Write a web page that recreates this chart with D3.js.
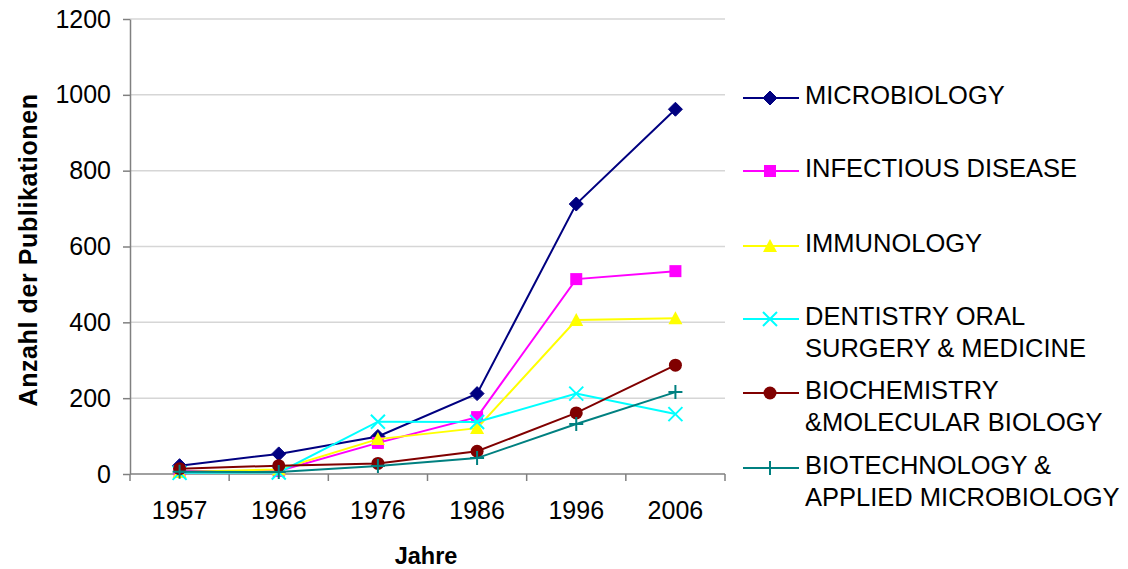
<!DOCTYPE html>
<html>
<head>
<meta charset="utf-8">
<script src="https://cdn.jsdelivr.net/npm/d3@7"></script>
<style>
  html, body { margin: 0; padding: 0; background: #fff; }
  svg { display: block; font-family: "Liberation Sans", Arial, sans-serif; }
</style>
</head>
<body>
<svg id="chart" width="1128" height="569"></svg>
<script>
// Publication counts per subject area, by year
const years = ["1957", "1966", "1976", "1986", "1996", "2006"];
const seriesNames = [
  ["MICROBIOLOGY"],
  ["INFECTIOUS DISEASE"],
  ["IMMUNOLOGY"],
  ["DENTISTRY ORAL", "SURGERY & MEDICINE"],
  ["BIOCHEMISTRY", "&MOLECULAR BIOLOGY"],
  ["BIOTECHNOLOGY &", "APPLIED MICROBIOLOGY"]
];
const microbiology = [22, 53, 99, 212, 712, 962];
const infectiousDisease = [8, 8, 82, 150, 514, 535];
const immunology = [5, 12, 92, 121, 406, 411];
const dentistry = [3, 4, 138, 137, 212, 158];
const biochemistry = [14, 22, 28, 60, 161, 287];
const biotechnology = [6, 5, 21, 42, 132, 216];
const yTicks = [0, 200, 400, 600, 800, 1000, 1200];

const seriesValues = [microbiology, infectiousDisease, immunology, dentistry, biochemistry, biotechnology];
const colors = ["#000080", "#FF00FF", "#FFFF00", "#00FFFF", "#800000", "#008080"];
const markers = ["diamond", "square", "triangle", "cross", "circle", "plus"];

const svg = d3.select("#chart");
const plotLeft = 130, plotRight = 725, plotTop = 19, plotBottom = 474;
const labelSize = 25;

const x = d3.scaleBand().domain(years).range([plotLeft, plotRight]);
const y = d3.scaleLinear().domain([0, 1200]).range([plotBottom, plotTop]);

// Horizontal gridlines
svg.append("g")
  .selectAll("line")
  .data(yTicks.filter(d => d > 0))
  .join("line")
  .attr("x1", plotLeft).attr("x2", plotRight)
  .attr("y1", d => y(d)).attr("y2", d => y(d))
  .attr("stroke", "#d6d6d6").attr("stroke-width", 1.5);

// Y axis
const yAxis = svg.append("g")
  .attr("transform", `translate(${plotLeft},0)`)
  .call(d3.axisLeft(y).tickValues(yTicks).tickFormat(d3.format("d"))
    .tickSize(7).tickPadding(12).tickSizeOuter(0));
yAxis.select(".domain").attr("stroke", "#808080").attr("stroke-width", 1.5);
yAxis.selectAll(".tick line").attr("stroke", "#808080").attr("stroke-width", 1.5);
yAxis.selectAll(".tick text")
  .attr("font-size", labelSize).attr("fill", "#000")
  .attr("font-family", "Liberation Sans, Arial, sans-serif");

// X axis: tick marks on category boundaries, labels at category centres
const xAxisG = svg.append("g").attr("transform", `translate(0,${plotBottom})`);
xAxisG.append("line")
  .attr("x1", plotLeft).attr("x2", plotRight).attr("y1", 0).attr("y2", 0)
  .attr("stroke", "#808080").attr("stroke-width", 1.5);
const boundaries = years.map(d => x(d)).concat([x(years[years.length - 1]) + x.bandwidth()]);
xAxisG.selectAll("line.tk")
  .data(boundaries)
  .join("line")
  .attr("class", "tk")
  .attr("x1", d => d).attr("x2", d => d)
  .attr("y1", 0).attr("y2", 7)
  .attr("stroke", "#808080").attr("stroke-width", 1.5);
xAxisG.selectAll("text")
  .data(years)
  .join("text")
  .attr("x", d => x(d) + x.bandwidth() / 2)
  .attr("y", 45)
  .attr("text-anchor", "middle")
  .attr("font-size", labelSize)
  .text(d => d);

// Axis titles
svg.append("text")
  .attr("x", 426).attr("y", 564)
  .attr("text-anchor", "middle")
  .attr("font-size", 23.5).attr("font-weight", "bold")
  .text("Jahre");
svg.append("text")
  .attr("transform", `translate(37,250) rotate(-90)`)
  .attr("text-anchor", "middle")
  .attr("font-size", 25).attr("font-weight", "bold")
  .attr("letter-spacing", 0.6)
  .text("Anzahl der Publikationen");

// Marker drawing
function drawMarker(g, type, color, cx, cy) {
  switch (type) {
    case "diamond":
      g.append("path")
        .attr("d", `M${cx},${cy - 7}L${cx + 7},${cy}L${cx},${cy + 7}L${cx - 7},${cy}Z`)
        .attr("fill", color).attr("stroke", color);
      break;
    case "square":
      g.append("rect")
        .attr("x", cx - 6).attr("y", cy - 6).attr("width", 12).attr("height", 12)
        .attr("fill", color);
      break;
    case "triangle":
      g.append("path")
        .attr("d", `M${cx},${cy - 7}L${cx + 7},${cy + 6}L${cx - 7},${cy + 6}Z`)
        .attr("fill", color);
      break;
    case "cross":
      g.append("path")
        .attr("d", `M${cx - 7},${cy - 7}L${cx + 7},${cy + 7}M${cx - 7},${cy + 7}L${cx + 7},${cy - 7}`)
        .attr("stroke", color).attr("stroke-width", 2).attr("fill", "none");
      break;
    case "circle":
      g.append("circle")
        .attr("cx", cx).attr("cy", cy).attr("r", 6.5)
        .attr("fill", color);
      break;
    case "plus":
      g.append("path")
        .attr("d", `M${cx - 7},${cy}L${cx + 7},${cy}M${cx},${cy - 7}L${cx},${cy + 7}`)
        .attr("stroke", color).attr("stroke-width", 2).attr("fill", "none");
      break;
  }
}

const line = d3.line()
  .x((d, i) => x(years[i]) + x.bandwidth() / 2)
  .y(d => y(d));

// Series lines and markers
seriesValues.forEach((vals, si) => {
  const g = svg.append("g");
  g.append("path")
    .datum(vals)
    .attr("d", line)
    .attr("fill", "none")
    .attr("stroke", colors[si])
    .attr("stroke-width", 2);
  vals.forEach((v, i) => {
    drawMarker(g, markers[si], colors[si], x(years[i]) + x.bandwidth() / 2, y(v));
  });
});

// Legend
const legendRows = [98, 171, 246, 319, 393, 468];
const legend = svg.append("g");
seriesNames.forEach((name, si) => {
  const ly = legendRows[si];
  const g = legend.append("g");
  g.append("line")
    .attr("x1", 743).attr("x2", 799).attr("y1", ly).attr("y2", ly)
    .attr("stroke", colors[si]).attr("stroke-width", 2);
  drawMarker(g, markers[si], colors[si], 770, ly);
  name.forEach((t, li) => {
    g.append("text")
      .attr("x", 805).attr("y", ly + 6 + li * 32)
      .attr("font-size", 25.5)
      .text(t);
  });
});
</script>
</body>
</html>
